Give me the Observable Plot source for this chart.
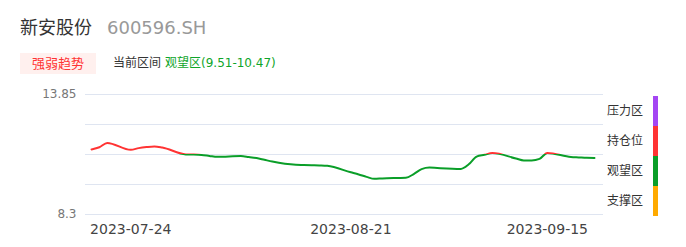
<!DOCTYPE html>
<html><head><meta charset="utf-8">
<script src="https://cdn.jsdelivr.net/npm/d3@7"></script>
<script src="https://cdn.jsdelivr.net/npm/@observablehq/plot@0.6"></script>
<style>
body{margin:0;background:#fff;font-family:"DejaVu Sans","Noto Sans CJK SC",sans-serif;}
#wrap{position:relative;width:686px;height:247px;overflow:hidden;}
.abs{position:absolute;white-space:nowrap;}
</style></head>
<body><div id="wrap"></div>
<script>
const stockName = "新安股份";
const stockCode = "600596.SH";
const tabLabel = "强弱趋势";
const rangePrefix = "当前区间";
const rangeText = "观望区(9.51-10.47)";

const dates = ["2023-07-19","2023-07-20","2023-07-21","2023-07-24","2023-07-25","2023-07-26","2023-07-27","2023-07-28","2023-07-31",
"2023-08-01","2023-08-02","2023-08-03","2023-08-04","2023-08-07","2023-08-08","2023-08-09","2023-08-10","2023-08-11",
"2023-08-14","2023-08-15","2023-08-16","2023-08-17","2023-08-18","2023-08-21","2023-08-22","2023-08-23","2023-08-24","2023-08-25",
"2023-08-28","2023-08-29","2023-08-30","2023-08-31","2023-09-01","2023-09-04","2023-09-05","2023-09-06","2023-09-07","2023-09-08",
"2023-09-11","2023-09-12","2023-09-13","2023-09-14","2023-09-15","2023-09-18","2023-09-19","2023-09-20","2023-09-21"];
const values = [11.31,11.41,11.61,11.29,11.37,11.42,11.45,11.40,11.08,
11.07,11.05,11.01,10.97,11.00,10.96,10.91,10.83,10.75,
10.60,10.59,10.58,10.57,10.55,10.25,10.15,10.04,9.95,9.97,
10.00,10.17,10.40,10.47,10.45,10.41,10.62,10.98,11.06,11.14,
10.89,10.80,10.80,10.87,11.15,10.96,10.94,10.92,10.91];

const gridValues = [13.85, 12.4625, 11.075, 9.6875, 8.3];
const yTicks = [13.85, 8.3];
const xTicks = ["2023-07-24","2023-08-21","2023-09-15"];
const threshold = 11.09;
const legendLabels = ["压力区","持仓位","观望区","支撑区"];
const legendColors = ["#a446f3","#ff3333","#0a9e28","#ffaa00"];
const upColor = "#ff3333", downColor = "#0a9e28";

const parse = d3.utcParse("%Y-%m-%d");
const data = dates.map((d,i)=>({date: parse(d), value: values[i]}));

const wrap = document.getElementById("wrap");
function addText(txt, left, top, size, color, extra){
  const el = document.createElement("div");
  el.className = "abs";
  el.textContent = txt;
  el.style.left = left+"px"; el.style.top = top+"px";
  el.style.fontSize = size+"px"; el.style.color = color;
  el.style.lineHeight = "1";
  if (extra) Object.assign(el.style, extra);
  wrap.appendChild(el);
  return el;
}
addText(stockName, 20, 19, 18, "#333");
addText(stockCode, 107, 19, 18, "#999");
addText(tabLabel, 20, 53, 13, "#ff3333", {width:"76px",height:"21px",lineHeight:"21px",textAlign:"center",background:"#fff0ee"});
addText(rangePrefix, 113, 57, 12, "#333");
addText(rangeText, 165, 57, 12, "#0fa52a");

const H = 167;
const chart = Plot.plot({
  width: 686, height: H,
  marginTop: 14, marginBottom: 33, marginLeft: 85, marginRight: 83,
  style: {fontFamily: '"DejaVu Sans","Noto Sans CJK SC",sans-serif', background: "transparent"},
  x: {type: "utc", domain: [parse(dates[0]), parse(dates[dates.length-1])], insetLeft: 6, insetRight: 9},
  y: {domain: [8.3, 13.85]},
  marks: [
    Plot.ruleY(gridValues, {stroke: "#dfe5f1", strokeWidth: 1}),
    Plot.axisY(yTicks, {tickSize: 0, tickPadding: 9, fontSize: 12, color: "#777", tickFormat: d => String(d), label: null}),
    Plot.axisX(xTicks.map(parse), {tickSize: 0, tickPadding: 10, fontSize: 14, color: "#444", tickFormat: d3.utcFormat("%Y-%m-%d"), label: null}),
    Plot.lineY(data, {x: "date", y: "value", stroke: "url(#trendGrad)", strokeWidth: 2, curve: "monotone-x"})
  ]
});
chart.style.position = "absolute";
chart.style.left = "0px";
chart.style.top = "80px";

const ty = chart.scale("y").apply(threshold);
const ns = "http://www.w3.org/2000/svg";
const defs = document.createElementNS(ns, "defs");
const grad = document.createElementNS(ns, "linearGradient");
grad.setAttribute("id", "trendGrad");
grad.setAttribute("gradientUnits", "userSpaceOnUse");
grad.setAttribute("x1", 0); grad.setAttribute("x2", 0);
grad.setAttribute("y1", 0); grad.setAttribute("y2", H);
[[0, upColor],[ty/H, upColor],[ty/H, downColor],[1, downColor]].forEach(([o,c])=>{
  const s = document.createElementNS(ns, "stop");
  s.setAttribute("offset", o); s.setAttribute("stop-color", c);
  grad.appendChild(s);
});
defs.appendChild(grad);
chart.insertBefore(defs, chart.firstChild);
wrap.appendChild(chart);

// right-side zone legend
const barTop = 96, segH = 30;
legendLabels.forEach((lab, i) => {
  addText(lab, 607, barTop + i*segH + 9, 12, "#333");
  const b = document.createElement("div");
  b.className = "abs";
  Object.assign(b.style, {left:"653px", top:(barTop + i*segH)+"px", width:"5px", height:segH+"px", background: legendColors[i]});
  wrap.appendChild(b);
});
</script></body></html>
